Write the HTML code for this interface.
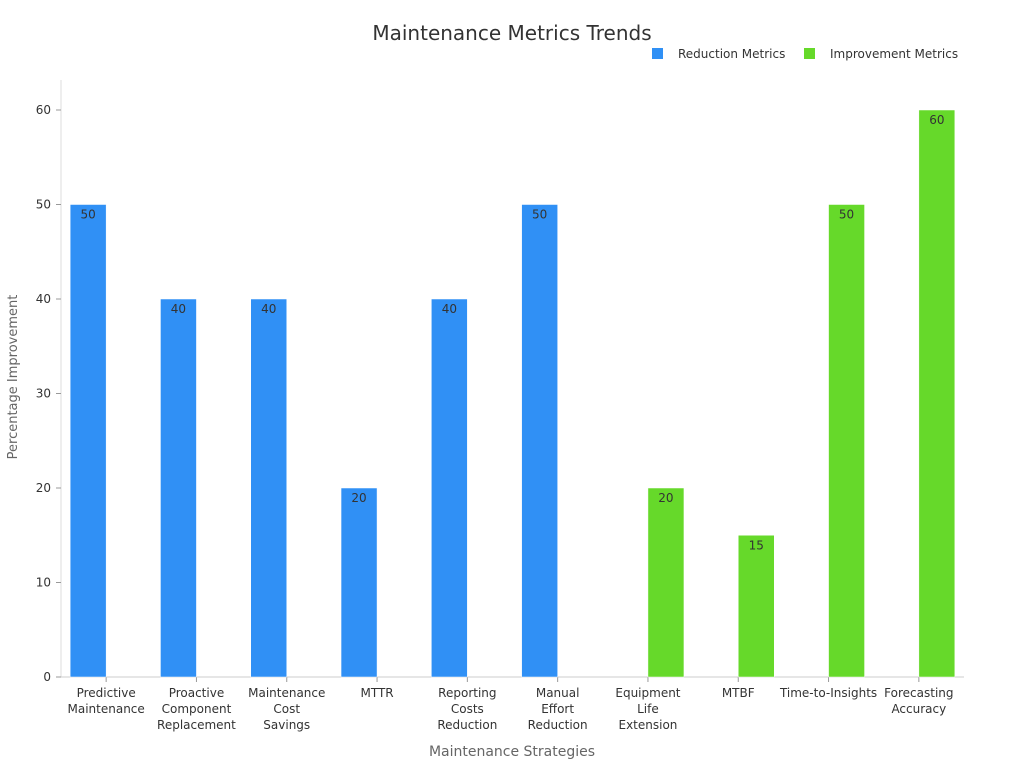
<!DOCTYPE html>
<html><head><meta charset="utf-8"><style>
body{margin:0;background:#fff;font-family:"Liberation Sans","DejaVu Sans",sans-serif}
svg text{font-family:"DejaVu Sans","Liberation Sans",sans-serif}
</style></head><body>
<svg id="chart" width="1024" height="768">
<text x="512" y="40" text-anchor="middle" font-size="20" fill="#333">Maintenance Metrics Trends</text>
<g>
<rect x="652" y="48" width="11" height="11" fill="#3090F5"/>
<text x="678" y="58" font-size="12" fill="#333">Reduction Metrics</text>
<rect x="804" y="48" width="11" height="11" fill="#66D92A"/>
<text x="830" y="58" font-size="12" fill="#333">Improvement Metrics</text>
</g>
<text transform="translate(17,377) rotate(-90)" text-anchor="middle" font-size="13" fill="#666">Percentage Improvement</text>
<text x="512" y="756" text-anchor="middle" font-size="14" fill="#666">Maintenance Strategies</text>
<g id="axes"></g><g id="bars"></g>
</svg>
<script>
const categories=[["Predictive","Maintenance"],["Proactive","Component","Replacement"],["Maintenance","Cost","Savings"],["MTTR"],["Reporting","Costs","Reduction"],["Manual","Effort","Reduction"],["Equipment","Life","Extension"],["MTBF"],["Time-to-Insights"],["Forecasting","Accuracy"]];
const reduction=[50,40,40,20,40,50,null,null,null,null];
const improvement=[null,null,null,null,null,null,20,15,50,60];
const yTicks=[0,10,20,30,40,50,60];
const NS="http://www.w3.org/2000/svg";
const L=61,R=964,T=110,B=677,yMax=60;
const y=v=>B-(v/yMax)*(B-T);
const cw=(R-L)/categories.length;
const xc=i=>L+cw*(i+0.5);
function mk(tag,attrs,parent){const e=document.createElementNS(NS,tag);for(const k in attrs)e.setAttribute(k,attrs[k]);parent.appendChild(e);return e;}
const ax=document.getElementById('axes'),bg=document.getElementById('bars');
let e=mk('line',{x1:L,y1:80,x2:L,y2:B,stroke:'#ddd'},ax);


yTicks.forEach(t=>{
 const tl=mk('line',{x1:L-5,y1:y(t),x2:L,y2:y(t),stroke:'#999'},ax);
 
 
 const tx=mk('text',{x:L-10,y:y(t)+4,'text-anchor':'end','font-size':12,fill:'#333'},ax);
 tx.textContent=t;
 
 
});
e=mk('line',{x1:L,y1:B,x2:R,y2:B,stroke:'#ccc'},ax);


categories.forEach((c,i)=>{
 const tm=mk('line',{x1:xc(i),y1:B,x2:xc(i),y2:B+5,stroke:'#999'},ax);
 
 
 const tx=mk('text',{x:xc(i),y:B+20,'text-anchor':'middle','font-size':12,fill:'#333'},ax);
 
 
 c.forEach((line,j)=>{const ts=mk('tspan',{x:xc(i),dy:j?16:0},tx);ts.textContent=line;});
});
function drawSeries(vals,color,off,name){
 vals.forEach((v,i)=>{
  if(v==null)return;
  const x0=xc(i)+off;
  const r=mk('rect',{x:x0,y:y(v),width:36,height:B-y(v),fill:color,stroke:'#fff','stroke-width':0.5},bg);
  
  
  const t=mk('text',{x:x0+18,y:y(v)+14,'text-anchor':'middle','font-size':12,fill:'#333'},bg);
  t.textContent=v;
  
  
 });
}
drawSeries(reduction,'#3090F5',-36,'reduction');
drawSeries(improvement,'#66D92A',0,'improvement');
</script>
</body></html>
